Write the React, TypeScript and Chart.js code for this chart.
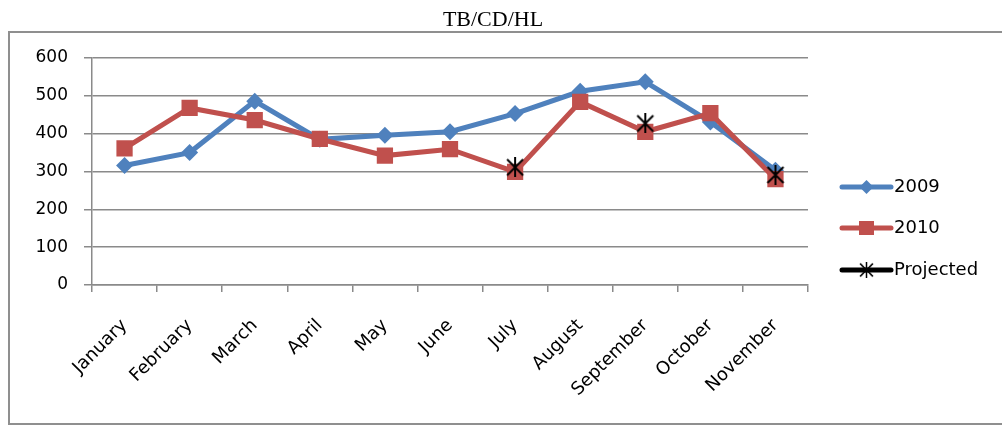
import React, { useEffect, useRef } from "react";
import { Chart, registerables } from "chart.js";

Chart.register(...registerables);

const chartTitle = "TB/CD/HL";
const months = [
  "January",
  "February",
  "March",
  "April",
  "May",
  "June",
  "July",
  "August",
  "September",
  "October",
  "November",
];
const series2009 = [316, 350, 486, 385, 396, 405, 453, 512, 537, 431, 303];
const series2010 = [361, 468, 436, 386, 342, 359, 299, 484, 405, 454, 280];
const projected = [null, null, null, null, null, null, 311, null, 427, null, 291];
const yMin = 0;
const yMax = 600;
const yStep = 100;

const BLUE = "#4F81BD";
const RED = "#C0504D";
const GRID = "#8a8a8a";
const FONT = '"DejaVu Sans", sans-serif';

function makeStar(size: number, color: string, lw: number) {
  const c = document.createElement("canvas");
  c.width = size;
  c.height = size;
  const ctx = c.getContext("2d")!;
  ctx.strokeStyle = color;
  ctx.lineWidth = lw;
  ctx.lineCap = "butt";
  const m = 2;
  ctx.beginPath();
  ctx.moveTo(m, m);
  ctx.lineTo(size - m, size - m);
  ctx.moveTo(size - m, m);
  ctx.lineTo(m, size - m);
  ctx.moveTo(size / 2, 0);
  ctx.lineTo(size / 2, size);
  ctx.stroke();
  return c;
}

export default function App() {
  const ref = useRef<HTMLCanvasElement | null>(null);

  useEffect(() => {
    if (!ref.current) return;
    const star = makeStar(20, "#000", 2);

    const titlePlugin = {
      id: "customTitle",
      afterDraw(chart: any) {
        const ctx = chart.ctx;
        ctx.save();
        ctx.font = '22px "Liberation Serif", serif';
        ctx.fillStyle = "#000";
        ctx.textAlign = "center";
        ctx.textBaseline = "alphabetic";
        ctx.fillText(chartTitle, 493, 26);
        ctx.restore();
      },
    };

    const legendPlugin = {
      id: "customLegend",
      afterDraw(chart: any) {
        const ctx = chart.ctx;
        const x0 = chart.chartArea.right + 34;
        const x1 = x0 + 49;
        const cx = (x0 + x1) / 2;
        const items = [
          { label: "2009", color: BLUE, marker: "diamond", y: 187 },
          { label: "2010", color: RED, marker: "square", y: 228 },
          { label: "Projected", color: "#000", marker: "star", y: 270 },
        ];
        ctx.save();
        for (const it of items) {
          ctx.strokeStyle = it.color;
          ctx.lineWidth = 5;
          ctx.lineCap = "round";
          ctx.beginPath();
          ctx.moveTo(x0, it.y);
          ctx.lineTo(x1, it.y);
          ctx.stroke();
          ctx.fillStyle = it.color;
          if (it.marker === "diamond") {
            ctx.beginPath();
            ctx.moveTo(cx, it.y - 7);
            ctx.lineTo(cx + 7, it.y);
            ctx.lineTo(cx, it.y + 7);
            ctx.lineTo(cx - 7, it.y);
            ctx.closePath();
            ctx.fill();
          } else if (it.marker === "square") {
            ctx.fillRect(cx - 7.5, it.y - 7, 15, 14);
          } else {
            ctx.drawImage(star, cx - 8, it.y - 8, 16, 16);
          }
          ctx.fillStyle = "#000";
          ctx.font = "18px " + FONT;
          ctx.textAlign = "left";
          ctx.textBaseline = "middle";
          ctx.fillText(it.label, x1 + 3, it.y);
        }
        ctx.restore();
      },
    };

    const chart = new Chart(ref.current, {
      type: "line",
      data: {
        labels: months,
        datasets: [
          {
            label: "2009",
            data: series2009,
            borderColor: BLUE,
            backgroundColor: BLUE,
            borderWidth: 5,
            pointStyle: "rectRot",
            pointRadius: 8.5,
            pointBorderWidth: 0,
            pointBackgroundColor: BLUE,
            tension: 0,
            order: 3,
          },
          {
            label: "2010",
            data: series2010,
            borderColor: RED,
            backgroundColor: RED,
            borderWidth: 5,
            pointStyle: "rect",
            pointRadius: 11.5,
            pointBorderWidth: 0,
            pointBackgroundColor: RED,
            tension: 0,
            order: 2,
          },
          {
            label: "Projected",
            data: projected as any,
            borderColor: "#000",
            backgroundColor: "#000",
            showLine: false,
            pointStyle: star as any,
            pointRadius: 10,
            order: 1,
          },
        ],
      },
      options: {
        responsive: false,
        animation: false,
        devicePixelRatio: 1,
        layout: { padding: { left: 0, top: 58, right: 194, bottom: 0 } },
        plugins: {
          legend: { display: false },
          title: { display: false },
          tooltip: { enabled: false },
        },
        scales: {
          x: {
            offset: true,
            grid: {
              offset: true,
              drawOnChartArea: false,
              drawTicks: true,
              tickLength: 7,
              color: GRID,
              lineWidth: 1.5,
            },
            border: { color: GRID, width: 1.5 },
            ticks: {
              autoSkip: false,
              minRotation: 45,
              maxRotation: 45,
              padding: 23,
              color: "#000",
              font: { family: FONT, size: 18 },
            },
            afterFit: (s: any) => {
              s.height = 140;
            },
          },
          y: {
            min: yMin,
            max: yMax,
            grid: {
              color: GRID,
              lineWidth: 1.5,
              drawTicks: true,
              tickLength: 8,
            },
            border: { color: GRID, width: 1.5 },
            ticks: {
              stepSize: yStep,
              padding: 16,
              color: "#000",
              font: { family: FONT, size: 17 },
            },
            afterFit: (s: any) => {
              s.width = 92;
            },
          },
        },
      },
      plugins: [titlePlugin, legendPlugin],
    });
    return () => chart.destroy();
  }, []);

  return (
    <div style={{ position: "absolute", left: 0, top: 0, width: 1002, height: 425, overflow: "hidden", background: "#fff" }}>
      <div
        style={{
          position: "absolute",
          left: 8,
          top: 31,
          width: 1010,
          height: 394,
          boxSizing: "border-box",
          border: "2px solid #8f8f8f",
        }}
      />
      <canvas ref={ref} width={1002} height={425} style={{ position: "absolute", left: 0, top: 0 }} />
    </div>
  );
}
